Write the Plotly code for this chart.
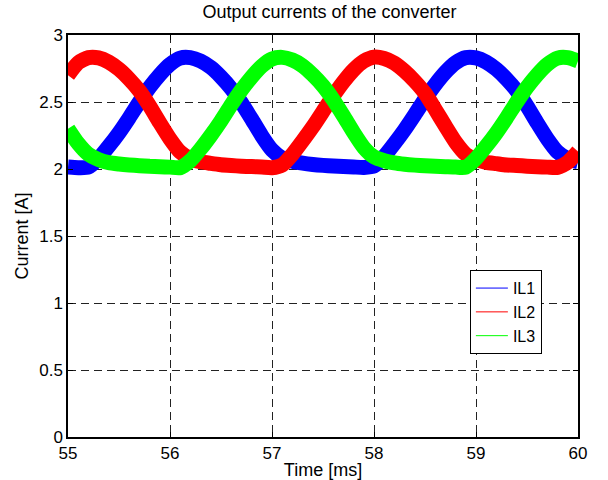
import plotly.graph_objects as go

time_ms = [55.0, 55.1, 55.2, 55.3, 55.4, 55.5, 55.6, 55.7, 55.8, 55.9,
           56.0, 56.1, 56.2, 56.3, 56.4, 56.5, 56.6, 56.7, 56.8, 56.9,
           57.0, 57.1, 57.2, 57.3, 57.4, 57.5, 57.6, 57.7, 57.8, 57.9,
           58.0, 58.1, 58.2, 58.3, 58.4, 58.5, 58.6, 58.7, 58.8, 58.9,
           59.0, 59.1, 59.2, 59.3, 59.4, 59.5, 59.6, 59.7, 59.8, 59.9, 60.0]

il1 = [2.015, 2.01, 2.014, 2.078, 2.17, 2.27, 2.382, 2.50, 2.61, 2.704,
       2.781, 2.828, 2.831, 2.806, 2.758, 2.687, 2.60, 2.494, 2.373, 2.248,
       2.142, 2.082, 2.058, 2.044, 2.034, 2.027, 2.022, 2.018, 2.015, 2.012,
       2.022, 2.094, 2.19, 2.293, 2.406, 2.523, 2.63, 2.722, 2.793, 2.831,
       2.829, 2.798, 2.744, 2.671, 2.583, 2.47, 2.344, 2.224, 2.126, 2.076, 2.054]

il2 = [2.70, 2.793, 2.831, 2.829, 2.798, 2.744, 2.671, 2.583, 2.47, 2.344,
       2.224, 2.126, 2.076, 2.054, 2.042, 2.032, 2.026, 2.021, 2.018, 2.015,
       2.01, 2.03, 2.11, 2.21, 2.315, 2.43, 2.545, 2.65, 2.74, 2.805,
       2.835, 2.825, 2.79, 2.73, 2.655, 2.565, 2.445, 2.32, 2.20, 2.11,
       2.07, 2.05, 2.04, 2.03, 2.026, 2.021, 2.017, 2.014, 2.012, 2.05, 2.13]

il3 = [2.30, 2.19, 2.11, 2.07, 2.047, 2.037, 2.03, 2.025, 2.02, 2.017,
       2.014, 2.01, 2.062, 2.15, 2.25, 2.359, 2.478, 2.589, 2.686, 2.768,
       2.821, 2.833, 2.813, 2.77, 2.702, 2.62, 2.517, 2.397, 2.272, 2.16,
       2.09, 2.062, 2.046, 2.036, 2.029, 2.024, 2.02, 2.017, 2.014, 2.014,
       2.078, 2.17, 2.27, 2.382, 2.50, 2.61, 2.704, 2.781, 2.828, 2.831, 2.806]

names = ["IL1", "IL2", "IL3"]
colors = ["#0000ff", "#ff0000", "#00ff00"]
x_ticks = [55, 56, 57, 58, 59, 60]
y_ticks = [0, 0.5, 1, 1.5, 2, 2.5, 3]
y_tick_labels = ["0", "0.5", "1", "1.5", "2", "2.5", "3"]

FONT = "Liberation Sans, Arial, Helvetica, sans-serif"

fig = go.Figure()
for name, ys, c in zip(names, [il1, il2, il3], colors):
    fig.add_trace(go.Scatter(x=time_ms, y=ys, mode="lines", name=name,
                             line=dict(color=c, width=15, shape="spline", smoothing=0.6),
                             showlegend=False, hoverinfo="skip"))
for name, c in zip(names, colors):
    fig.add_trace(go.Scatter(x=[None], y=[None], mode="lines", name=name,
                             line=dict(color=c, width=1)))

axis_common = dict(showline=True, linecolor="black", linewidth=1.5, mirror="ticks",
                   ticks="inside", ticklen=5, tickcolor="black", automargin=False,
                   showgrid=True, gridcolor="#222222", griddash="8px,5px", gridwidth=1,
                   zeroline=False, tickfont=dict(family=FONT, size=17, color="black"))

fig.update_layout(
    width=608, height=480,
    margin=dict(l=68, r=30, t=35, b=43),
    paper_bgcolor="white", plot_bgcolor="white",
    font=dict(family=FONT, size=17, color="black"),
    title=dict(text="Output currents of the converter", x=0.542, xanchor="center",
               xref="container", y=0.975, yanchor="middle", yref="container",
               font=dict(family=FONT, size=18, color="black"), automargin=False),
    xaxis=dict(range=[55, 60], tickvals=x_ticks, ticktext=[str(v) for v in x_ticks],
               title=dict(text="Time [ms]", standoff=2, font=dict(family=FONT, size=18)),
               **axis_common),
    yaxis=dict(range=[0, 3], tickvals=y_ticks, ticktext=y_tick_labels,
               title=dict(text="Current [A]", standoff=6, font=dict(family=FONT, size=18)),
               **axis_common),
    legend=dict(x=0.788, y=0.415, xanchor="left", yanchor="top",
                bgcolor="white", bordercolor="black", borderwidth=1,
                font=dict(family=FONT, size=16, color="black"), itemwidth=32),
)

fig.write_html("out.html")
